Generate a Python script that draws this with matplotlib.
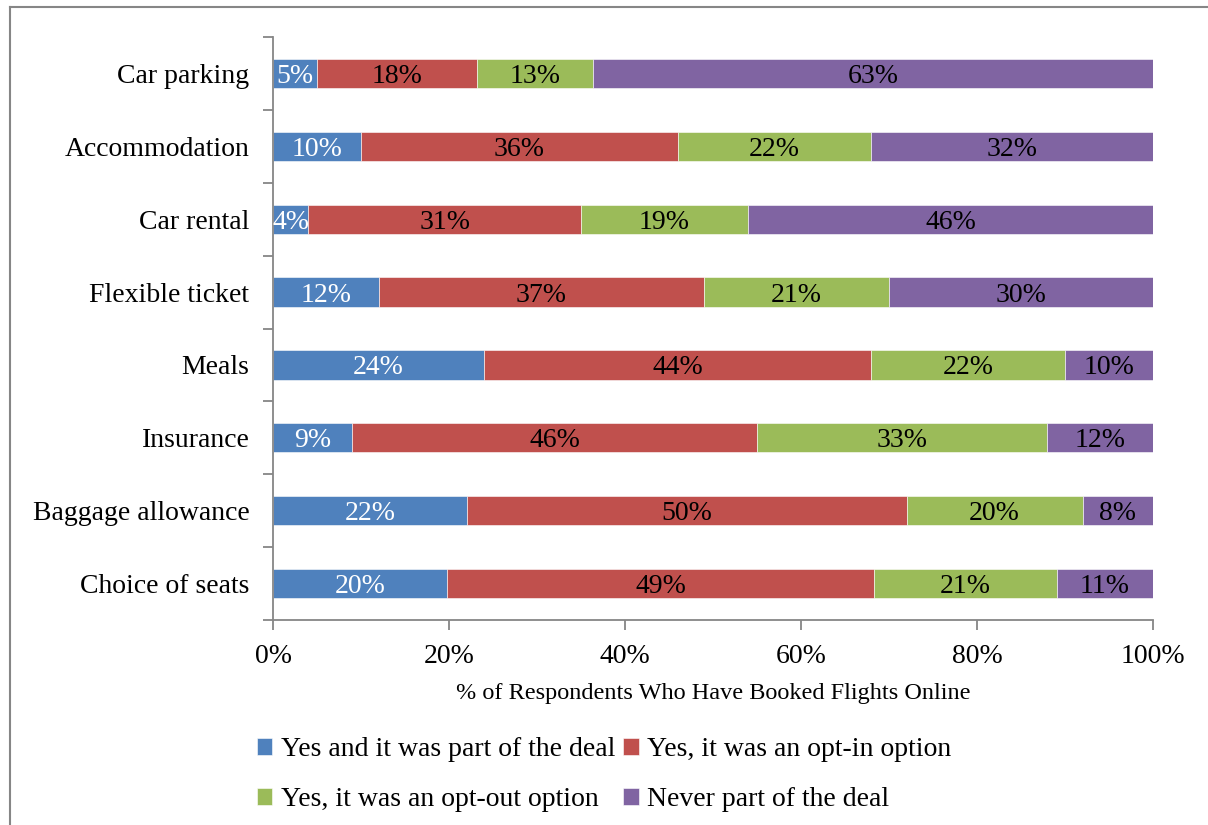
import matplotlib
matplotlib.use('Agg')
import matplotlib.pyplot as plt
from matplotlib.lines import Line2D
import numpy as np

plt.rcParams['font.family'] = ['Liberation Serif', 'DejaVu Serif']

# categories, top to bottom as shown
categories = ['Car parking', 'Accommodation', 'Car rental', 'Flexible ticket',
              'Meals', 'Insurance', 'Baggage allowance', 'Choice of seats']
part_of_deal = [5, 10, 4, 12, 24, 9, 22, 20]
opt_in = [18, 36, 31, 37, 44, 46, 50, 49]
opt_out = [13, 22, 19, 21, 22, 33, 20, 21]
never = [63, 32, 46, 30, 10, 12, 8, 11]

series_names = ['Yes and it was part of the deal', 'Yes, it was an opt-in option',
                'Yes, it was an opt-out option', 'Never part of the deal']
colors = ['#4F81BD', '#C0504D', '#9BBB59', '#8064A2']
label_colors = ['white', 'black', 'black', 'black']

data = np.array([part_of_deal, opt_in, opt_out, never], dtype=float)
shares = data / data.sum(axis=0) * 100  # 100% stacked, like Excel

fig = plt.figure(figsize=(12.08, 8.25), dpi=100)
ax = fig.add_axes([273/1208, 1 - 620/825, 880/1208, 583/825])

y = np.arange(len(categories))[::-1]
left = np.zeros(len(categories))
handles = []
for i in range(4):
    bars = ax.barh(y, shares[i], left=left, height=0.4, color=colors[i],
                   edgecolor='white', linewidth=0.4, label=series_names[i])
    handles.append(bars)
    for j in range(len(categories)):
        ax.text(left[j] + shares[i][j] / 2, y[j], '%d%%' % data[i][j],
                ha='center', va='center_baseline', fontsize=20, color=label_colors[i])
    left = left + shares[i]

ax.set_xlim(0, 100)
ax.set_ylim(-0.5, len(categories) - 0.5)
ax.set_yticks(y)
ax.set_yticklabels(categories, fontsize=20)
ax.set_yticks(np.arange(-0.5, len(categories)), minor=True)
ax.tick_params(axis='y', which='major', length=0, pad=17)
ax.tick_params(axis='y', which='minor', length=7, width=1.3, color='#868686')
ax.set_xticks([0, 20, 40, 60, 80, 100])
ax.set_xticklabels(['0%', '20%', '40%', '60%', '80%', '100%'], fontsize=20)
ax.tick_params(axis='x', length=7, width=1.3, color='#868686', pad=10)
ax.set_xlabel('% of Respondents Who Have Booked Flights Online', fontsize=17.5, labelpad=10)

for s in ['top', 'right']:
    ax.spines[s].set_visible(False)
for s in ['left', 'bottom']:
    ax.spines[s].set_color('#868686')
    ax.spines[s].set_linewidth(1.3)

order = [0, 2, 1, 3]
fig.legend([handles[k] for k in order], [series_names[k] for k in order],
           loc='center', bbox_to_anchor=(0.5, 1 - 775/825), ncol=2, frameon=False,
           fontsize=20, handlelength=0.55, handleheight=0.55, handletextpad=0.3,
           columnspacing=0.3, labelspacing=0.9)

# chart area frame (cropped at right and bottom)
fig.add_artist(Line2D([10/1208, 1.0], [1 - 7/825, 1 - 7/825], transform=fig.transFigure,
                      color='#868686', linewidth=1.5))
fig.add_artist(Line2D([10/1208, 10/1208], [0.0, 1 - 7/825], transform=fig.transFigure,
                      color='#868686', linewidth=1.5))

fig.savefig('out.png', dpi=100)
